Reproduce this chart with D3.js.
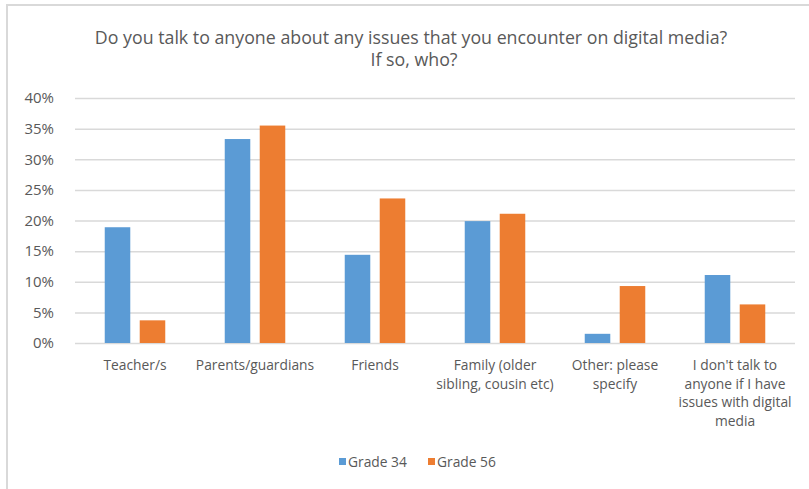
<!DOCTYPE html>
<html>
<head>
<meta charset="utf-8">
<script src="https://cdn.jsdelivr.net/npm/d3@7"></script>
<style>
  body { margin: 0; background: #fff; }
  text { font-family: "Open Sans", "Liberation Sans", sans-serif; fill: #595959; }
</style>
</head>
<body>
<div id="chart"></div>
<script>
// data
const categories = [
    ["Teacher/s"],
    ["Parents/guardians"],
    ["Friends"],
    ["Family (older", "sibling, cousin etc)"],
    ["Other: please", "specify"],
    ["I don't talk to", "anyone if I have", "issues with digital", "media"]
];
const seriesNames = ["Grade 34", "Grade 56"];
const grade34 = [0.189, 0.333, 0.144, 0.199, 0.015, 0.111];
const grade56 = [0.037, 0.355, 0.236, 0.211, 0.093, 0.063];
const yTicks = [0, 0.05, 0.10, 0.15, 0.20, 0.25, 0.30, 0.35, 0.40];
const colors = ["#5b9bd5", "#ed7d31"];

const width = 809, height = 489;
const margin = {left: 75, right: 14, top: 98, bottom: 146};

const svg = d3.select("#chart").append("svg")
    .attr("width", width)
    .attr("height", height);

// chart frame (only top and left edges show in the picture)
svg.append("rect")
    .attr("x", 7).attr("y", 5)
    .attr("width", 900).attr("height", 900)
    .attr("fill", "none")
    .attr("stroke", "#d9d9d9")
    .attr("stroke-width", 2);

// title
const title = svg.append("text")
    .attr("text-anchor", "middle")
    .attr("font-size", 17.8);
title.append("tspan").attr("x", 411).attr("y", 44)
    .text("Do you talk to anyone about any issues that you encounter on digital media?");
title.append("tspan").attr("x", 414).attr("y", 66)
    .text("If so, who?");

const x = d3.scaleBand()
    .domain(d3.range(categories.length))
    .range([margin.left, width - margin.right]);

const xSub = d3.scaleBand()
    .domain(d3.range(seriesNames.length))
    .range([0, x.bandwidth()])
    .paddingInner(0.27)
    .paddingOuter(0.85);

const y = d3.scaleLinear()
    .domain([0, 0.4])
    .range([height - margin.bottom, margin.top]);

// gridlines + y labels
const yAxis = d3.axisLeft(y)
    .tickValues(yTicks)
    .tickFormat(d3.format(".0%"))
    .tickSize(-(width - margin.left - margin.right))
    .tickPadding(21);

svg.append("g")
    .attr("transform", "translate(" + margin.left + ",0)")
    .call(yAxis)
    .call(g => g.select(".domain").remove())
    .call(g => g.selectAll(".tick line").attr("stroke", "#d9d9d9").attr("stroke-width", 1.5))
    .call(g => g.selectAll(".tick text")
        .attr("font-size", 15)
        .attr("fill", "#595959")
        .attr("font-family", "\"Open Sans\", sans-serif"));

// bars
const series = [grade34, grade56];
series.forEach((vals, s) => {
    svg.append("g")
        .selectAll("rect")
        .data(vals)
        .join("rect")
        .attr("x", (d, i) => x(i) + xSub(s))
        .attr("y", d => y(d))
        .attr("width", xSub.bandwidth())
        .attr("height", d => y(0) - y(d))
        .attr("fill", colors[s]);
});

// category labels
const labels = svg.append("g")
    .selectAll("text")
    .data(categories)
    .join("text")
    .attr("text-anchor", "middle")
    .attr("font-size", 13.8);
labels.selectAll("tspan")
    .data((d, i) => d.map(line => ({line: line, i: i})))
    .join("tspan")
    .attr("x", d => x(d.i) + x.bandwidth() / 2)
    .attr("y", (d, j) => 370 + j * 18.5)
    .text(d => d.line);

// legend
const legendItems = [{x: 339, tx: 348}, {x: 428, tx: 437}];
seriesNames.forEach((name, s) => {
    svg.append("rect")
        .attr("x", legendItems[s].x).attr("y", 458)
        .attr("width", 7).attr("height", 7)
        .attr("fill", colors[s]);
    svg.append("text")
        .attr("x", legendItems[s].tx).attr("y", 466.5)
        .attr("font-size", 13.8)
        .text(name);
});
</script>
</body>
</html>
